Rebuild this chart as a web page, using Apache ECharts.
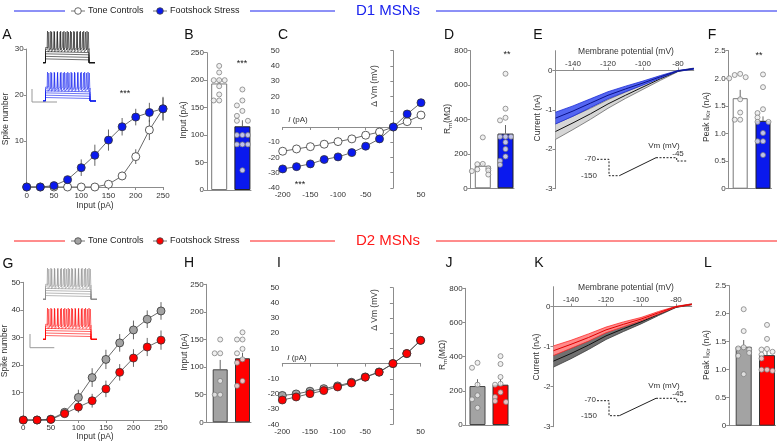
<!DOCTYPE html>
<html>
<head>
<meta charset="utf-8">
<script src="https://cdn.jsdelivr.net/npm/echarts@6/dist/echarts.min.js"></script>
<style>
html,body{margin:0;padding:0;background:#fff}
#main{width:779px;height:443px}
</style>
</head>
<body>
<div id="main"></div>
<script>
// ---- data ----
var inputPA = [0, 25, 50, 75, 100, 125, 150, 175, 200, 225, 250];
var d1SpikeTone = [0, 0, 0, 0, 0, 0, 0.6, 2.4, 6.6, 12.4, 17];
var d1SpikeToneSem = [0, 0, 0, 0, 0, 0, 0.4, 0.9, 1.6, 2.2, 2.4];
var d1SpikeFoot = [0, 0, 0.3, 1.6, 4.2, 6.9, 10.2, 13.1, 15.2, 16.2, 17];
var d1SpikeFootSem = [0, 0, 0.2, 0.7, 1.8, 2.3, 2.3, 1.9, 1.8, 2.1, 2.6];
var d2SpikeTone = [0, 0, 0.3, 2.8, 8.2, 15.4, 22, 28, 32.7, 36.6, 39.6];
var d2SpikeToneSem = [0, 0, 0.3, 1.2, 2.8, 3.4, 3.5, 3.2, 3.4, 3.2, 3.2];
var d2SpikeFoot = [0, 0, 0.2, 2.3, 4.7, 7, 11.3, 17.3, 22.5, 26.5, 29];
var d2SpikeFootSem = [0, 0, 0.2, 1, 2, 2.5, 3, 3, 3.2, 3.3, 3.5];

var d1RheoMean = [194, 116];
var d1RheoSem = [7, 11];
var d1RheoTone = [226, 214, 200, 200, 200, 189, 174, 163, 163];
var d1RheoFoot = [183, 163, 154, 144, 135, 126, 126, 100, 100, 100, 83, 83, 83, 36];
var d2RheoMean = [96, 116];
var d2RheoSem = [17, 10];
var d2RheoTone = [150, 125, 125, 75, 50, 50];
var d2RheoFoot = [163, 150, 150, 133, 125, 114, 108, 75, 66];

var ivCurrent = [-200, -175, -150, -125, -100, -75, -50, -25, 0, 25, 50];
var d1IvTone = [-15.9, -14.4, -12.9, -11.3, -9.6, -7.8, -5.4, -3.3, 0, 3.5, 7.8];
var d1IvToneSem = [1.2, 1, 1, 1, 1, 0.8, 0.6, 0.5, 0, 0.5, 0.8];
var d1IvFoot = [-27.5, -26, -24.2, -21.3, -19.6, -16.8, -12.6, -7.8, 0, 8.5, 15.9];
var d1IvFootSem = [2.5, 2.3, 2.2, 2, 2, 1.8, 1.5, 1.2, 0, 1, 1.5];
var d2IvTone = [-21, -20, -18.2, -16.5, -14.7, -12.3, -8.8, -5.5, 0, 6.6, 15.3];
var d2IvToneSem = [1.2, 1.1, 1, 1, 0.9, 0.8, 0.6, 0.5, 0, 0.6, 1];
var d2IvFoot = [-24, -22, -19.8, -17.8, -15.4, -12.8, -9, -5.7, 0, 6.6, 15.3];
var d2IvFootSem = [1.5, 1.4, 1.3, 1.2, 1.1, 1, 0.8, 0.6, 0, 0.7, 1.2];

var d1RmMean = [131, 318];
var d1RmSem = [16, 50];
var d1RmTone = [296, 142, 140, 116, 110, 104, 100, 80];
var d1RmFoot = [666, 463, 410, 395, 300, 300, 300, 268, 228, 185, 160, 137];
var d2RmMean = [228, 236];
var d2RmSem = [40, 33];
var d2RmTone = [364, 335, 236, 174, 150, 101];
var d2RmFoot = [403, 357, 281, 241, 236, 191, 164, 140, 135];

var rampMv = [-150, -140, -130, -120, -110, -100, -90, -80, -71];
var d1IkTone = [-1.55, -1.33, -1.1, -0.85, -0.63, -0.42, -0.21, -0.02, 0.05];
var d1IkToneSem = [0.2, 0.17, 0.14, 0.11, 0.08, 0.06, 0.04, 0.01, 0.01];
var d1IkFoot = [-1.21, -1.03, -0.83, -0.63, -0.47, -0.32, -0.16, -0.01, 0.04];
var d1IkFootSem = [0.15, 0.13, 0.11, 0.09, 0.07, 0.05, 0.03, 0.01, 0.01];
var d2IkTone = [-1.36, -1.17, -0.96, -0.73, -0.55, -0.38, -0.19, -0.01, 0.06];
var d2IkToneSem = [0.15, 0.13, 0.11, 0.09, 0.07, 0.05, 0.03, 0.01, 0.01];
var d2IkFoot = [-1.1, -0.94, -0.77, -0.58, -0.44, -0.31, -0.15, 0, 0.06];
var d2IkFootSem = [0.12, 0.1, 0.09, 0.07, 0.06, 0.04, 0.03, 0.01, 0.01];

var d1KirMean = [1.64, 1.23];
var d1KirSem = [0.15, 0.08];
var d1KirTone = [2.08, 2.06, 2.02, 2.0, 1.62, 1.38, 1.25, 1.25];
var d1KirFoot = [2.07, 1.84, 1.44, 1.37, 1.29, 1.21, 1.21, 1.01, 0.86, 0.86, 0.61];
var d2KirMean = [1.41, 1.26];
var d2KirSem = [0.12, 0.07];
var d2KirTone = [2.08, 1.69, 1.4, 1.38, 1.36, 1.3, 1.25, 0.92];
var d2KirFoot = [1.8, 1.55, 1.37, 1.36, 1.32, 1.27, 1.2, 1.0, 1.0, 0.98];

// ---- styles ----
var FONT = '"Liberation Sans", Arial, sans-serif';
var AXC = '#8c8c8c', TXT = '#333';
var BLUE = '#0a19ee', RED = '#ff0000', GRAY = '#a3a3a3', ERR = '#555';

var grids = [], xAxes = [], yAxes = [], series = [], graphics = [];

function addGrid(g, xa, ya) {
	var i = grids.length;
	g.containLabel = false;
	grids.push(g);
	xa.gridIndex = i; ya.gridIndex = i;
	xAxes.push(xa); yAxes.push(ya);
	return i;
}

function valAxis(o) {
	var a = {
		type: 'value', min: o.min, max: o.max, position: o.position, offset: o.offset || 0,
		splitLine: { show: false },
		axisLine: { show: true, onZero: !!o.onZero, lineStyle: { color: AXC, width: 1 } },
		axisTick: { show: o.ticks !== false, length: 3, lineStyle: { color: AXC, width: 1 } },
		axisLabel: {
			show: o.labels !== false, fontSize: 8, color: TXT, fontFamily: FONT, margin: o.margin || 3,
			formatter: o.fmt || function (v) { return (o.hideZero && v === 0) ? '' : String(v); }
		}
	};
	if (o.interval) a.interval = o.interval;
	if (o.custom) { a.axisTick.customValues = o.custom; a.axisLabel.customValues = o.custom; }
	return a;
}

function pairs(xs, ys) { return xs.map(function (x, i) { return [x, ys[i]]; }); }

function errSeries(gi, xs, means, sems, upOnly) {
	var data = xs.map(function (x, i) {
		return [x, upOnly ? means[i] : means[i] - sems[i], means[i] + sems[i]];
	});
	return {
		type: 'custom', xAxisIndex: gi, yAxisIndex: gi, data: data, z: 3, silent: true,
		encode: { x: 0, y: [1, 2] },
		renderItem: function (params, api) {
			var p0 = api.coord([api.value(0), api.value(1)]);
			var p1 = api.coord([api.value(0), api.value(2)]);
			return { type: 'line', shape: { x1: p0[0], y1: p0[1], x2: p1[0], y2: p1[1] },
				style: { stroke: ERR, lineWidth: 0.9 } };
		}
	};
}

function lineSeries(gi, xs, ys, fill) {
	return {
		type: 'line', xAxisIndex: gi, yAxisIndex: gi, data: pairs(xs, ys), z: 4,
		symbol: 'circle', symbolSize: 8,
		lineStyle: { color: '#444', width: 0.8 },
		itemStyle: { color: fill, borderColor: '#333', borderWidth: 0.8 }
	};
}

// simple beeswarm: spread dots of similar value sideways
function swarm(vals, center, stepX, tolY) {
	var placed = [];
	return vals.map(function (v) {
		var k = placed.filter(function (p) { return Math.abs(p - v) < tolY; }).length;
		placed.push(v);
		var off = k === 0 ? 0 : (k % 2 ? -1 : 1) * Math.ceil(k / 2) * stepX;
		return [center + off, v];
	});
}

function barPanel(L, means, sems, toneDots, footDots, toneFill, footFill, toneEdge, footEdge) {
	var u = L.c2 - L.c1;
	var xmin = 0.5 - (L.c1 - L.axisX) / u, xmax = 1.5 + (L.endX - L.c2) / u;
	var gi = addGrid({ left: L.axisX, top: L.top, width: L.endX - L.axisX, height: L.bottom - L.top },
		valAxis({ min: xmin, max: xmax, ticks: false, labels: false }),
		valAxis({ min: 0, max: L.ymax, interval: L.step, fmt: L.fmt }));
	series.push({
		type: 'bar', xAxisIndex: gi, yAxisIndex: gi, barWidth: L.barW, z: 2,
		data: [
			{ value: [0.5, means[0]], itemStyle: { color: toneFill, borderColor: toneEdge, borderWidth: 1 } },
			{ value: [1.5, means[1]], itemStyle: { color: footFill, borderColor: footEdge, borderWidth: 1 } }
		]
	});
	series.push(errSeries(gi, [0.5, 1.5], means, sems, true));
	var tol = 5 * L.ymax / (L.bottom - L.top), stepX = 5.5 / u;
	[swarm(toneDots, 0.5, stepX, tol), swarm(footDots, 1.5, stepX, tol)].forEach(function (d) {
		series.push({
			type: 'scatter', xAxisIndex: gi, yAxisIndex: gi, data: d, z: 5,
			symbol: 'circle', symbolSize: 5,
			itemStyle: { color: '#ececec', borderColor: '#777', borderWidth: 0.9 }
		});
	});
	return gi;
}

function bandSeries(gi, xs, mean, sem, fill, edge, mid) {
	return {
		type: 'custom', xAxisIndex: gi, yAxisIndex: gi, data: [[xs[0], mean[0]]], silent: true, clip: false, z: 3,
		renderItem: function (params, api) {
			var up = xs.map(function (x, i) { return api.coord([x, mean[i] + sem[i]]); });
			var lo = xs.map(function (x, i) { return api.coord([x, mean[i] - sem[i]]); });
			var md = xs.map(function (x, i) { return api.coord([x, mean[i]]); });
			return { type: 'group', children: [
				{ type: 'polygon', shape: { points: up.concat(lo.slice().reverse()) }, style: { fill: fill } },
				{ type: 'polyline', shape: { points: up }, style: { stroke: edge, lineWidth: 0.8, fill: null } },
				{ type: 'polyline', shape: { points: lo }, style: { stroke: edge, lineWidth: 0.8, fill: null } },
				{ type: 'polyline', shape: { points: md }, style: { stroke: mid, lineWidth: 1, fill: null } }
			] };
		}
	};
}

// ---- graphic helpers ----
function txt(x, y, s, size, color, align, extra) {
	var st = { text: s, fontSize: size, fontFamily: FONT, fill: color || TXT,
		align: align || 'center', verticalAlign: 'middle' };
	if (extra) for (var k in extra) st[k] = extra[k];
	return { type: 'text', x: x, y: y, style: st, silent: true, z: 10 };
}
function vtxt(x, y, s, rich) {
	var g = txt(x, y, s, 8.5, TXT, 'center', rich ? { rich: rich } : null);
	g.rotation = Math.PI / 2;
	return g;
}
function seg(pts, color, w, dash) {
	return { type: 'polyline', shape: { points: pts }, silent: true, z: 10,
		style: { stroke: color, lineWidth: w || 1, fill: null, lineDash: dash || null } };
}

function header(y, color, toneFill, footFill, title) {
	graphics.push(seg([[14, y], [65, y]], color, 1));
	graphics.push(seg([[71, y], [85, y]], '#555', 0.8));
	graphics.push({ type: 'circle', shape: { cx: 78, cy: y, r: 3.3 }, style: { fill: toneFill, stroke: '#444', lineWidth: 0.8 }, z: 11 });
	graphics.push(txt(88, y, 'Tone Controls', 9, '#222', 'left'));
	graphics.push(seg([[153, y], [167, y]], '#555', 0.8));
	graphics.push({ type: 'circle', shape: { cx: 160, cy: y, r: 3.3 }, style: { fill: footFill, stroke: '#444', lineWidth: 0.8 }, z: 11 });
	graphics.push(txt(170, y, 'Footshock Stress', 9, '#222', 'left'));
	graphics.push(seg([[250, y], [335, y]], color, 1));
	graphics.push(txt(388, y, title, 15, color, 'center'));
	graphics.push(seg([[436, y], [777, y]], color, 1));
}

// example sweeps drawn as a small picture
function traceInset(x0, x1, yTop, yBot, color) {
	var xs = x0 + 2.5, xe = x1 - 6, h = yBot - yTop;
	[0.12, 0.2, 0.28, 0.35].forEach(function (f) {
		var y = yBot - f * h;
		graphics.push(seg([[x0, yBot], [xs, yBot], [xs, y], [xe, y + 1], [xe, yBot], [x1, yBot]], color, 0.6));
	});
	[13, 15].forEach(function (n, k) {
		var yb = yBot - (0.42 + 0.06 * k) * h;
		var pts = [[x0, yBot], [xs, yBot], [xs, yb]];
		for (var i = 0; i < n; i++) {
			var x = xs + 2 + i * (xe - xs - 4) / (n - 1) + k * 1.3;
			pts.push([x - 0.5, yb], [x, yTop + k], [x + 0.6, yb + 2.5]);
		}
		pts.push([xe, yb + 1], [xe, yBot], [x1, yBot]);
		graphics.push(seg(pts, color, 0.5));
	});
}
function scaleBar(x, yTop, yBot, xEnd) {
	graphics.push(seg([[x, yTop], [x, yBot], [xEnd, yBot]], '#999', 1));
}
function protocol(yHold, yLow, yEnd, yHold2, labels) {
	graphics.push(seg([[597, yHold], [609, yHold], [609, yLow], [619.3, yLow]], '#222', 1, [2, 1.5]));
	graphics.push(seg([[619.3, yLow], [656, yEnd]], '#222', 1));
	graphics.push(seg([[656, yEnd], [676.7, yEnd], [676.7, yHold2], [686.7, yHold2]], '#222', 1, [2, 1.5]));
	graphics.push(txt(596, yHold - 1, '-70', 8, TXT, 'right'));
	graphics.push(txt(597, yLow, '-150', 8, TXT, 'right'));
	graphics.push(txt(664, labels[0], 'Vm (mV)', 8, TXT, 'center'));
	graphics.push(txt(678, labels[1], '-45', 8, TXT, 'center'));
}

// ================= D1 row =================
// A: input-output curve
var gA = addGrid({ left: 26.7, top: 49, width: 136.3, height: 138 },
	valAxis({ min: 0, max: 250, interval: 50, margin: 5 }),
	valAxis({ min: 0, max: 30, interval: 10, hideZero: true }));
series.push(errSeries(gA, inputPA, d1SpikeTone, d1SpikeToneSem));
series.push(errSeries(gA, inputPA, d1SpikeFoot, d1SpikeFootSem));
series.push(lineSeries(gA, inputPA, d1SpikeTone, '#fff'));
series.push(lineSeries(gA, inputPA, d1SpikeFoot, BLUE));

// B: rheobase
barPanel({ axisX: 207, c1: 219.2, c2: 242.4, endX: 251, top: 52.7, bottom: 190, ymax: 250, step: 50, barW: 16 },
	d1RheoMean, d1RheoSem, d1RheoTone, d1RheoFoot, '#fff', BLUE, '#777', '#222');

// C: I-V
var gC = addGrid({ left: 282.7, top: 50.7, width: 138.3, height: 137.3 },
	valAxis({ min: -200, max: 50, interval: 50, onZero: true, hideZero: true }),
	valAxis({ min: -40, max: 50, interval: 10, onZero: true, hideZero: true }));
series.push(errSeries(gC, ivCurrent, d1IvTone, d1IvToneSem));
series.push(errSeries(gC, ivCurrent, d1IvFoot, d1IvFootSem));
series.push(lineSeries(gC, ivCurrent, d1IvTone, '#fff'));
series.push(lineSeries(gC, ivCurrent, d1IvFoot, BLUE));

// D: input resistance
barPanel({ axisX: 470.7, c1: 482.8, c2: 505.5, endX: 514, top: 50.7, bottom: 188.3, ymax: 800, step: 200, barW: 16 },
	d1RmMean, d1RmSem, d1RmTone, d1RmFoot, '#fff', BLUE, '#777', '#222');

// E: Kir ramp currents (x axis sits on the 0 nA line, labels above)
var gE = addGrid({ left: 555.5, top: 50.7, width: 138.25, height: 138 },
	valAxis({ min: -150, max: -71, position: 'top', offset: -0.5 * 138 / 3.5, custom: [-140, -120, -100, -80] }),
	valAxis({ min: -3, max: 0.5, custom: [-3, -2, -1, 0] }));
series.push(bandSeries(gE, rampMv, d1IkTone, d1IkToneSem, '#d6d6d6', '#6a6a6a', '#111'));
series.push(bandSeries(gE, rampMv, d1IkFoot, d1IkFootSem, '#5466f2', '#1a2bd6', '#0a128a'));

// F: peak Kir
var fmt1 = function (v) { return v === 0 ? '0' : v.toFixed(1); };
barPanel({ axisX: 728.7, c1: 740.2, c2: 763, endX: 771.5, top: 50.7, bottom: 188.7, ymax: 2.5, step: 0.5, barW: 15, fmt: fmt1 },
	d1KirMean, d1KirSem, d1KirTone, d1KirFoot, '#fff', BLUE, '#777', '#222');

// ================= D2 row =================
var gG = addGrid({ left: 23.3, top: 282.3, width: 137.7, height: 137.7 },
	valAxis({ min: 0, max: 250, interval: 50, margin: 4 }),
	valAxis({ min: 0, max: 50, interval: 10, hideZero: true }));
series.push(errSeries(gG, inputPA, d2SpikeTone, d2SpikeToneSem));
series.push(errSeries(gG, inputPA, d2SpikeFoot, d2SpikeFootSem));
series.push(lineSeries(gG, inputPA, d2SpikeTone, GRAY));
series.push(lineSeries(gG, inputPA, d2SpikeFoot, RED));

barPanel({ axisX: 206.7, c1: 220.2, c2: 242.5, endX: 251, top: 284.3, bottom: 422.3, ymax: 250, step: 50, barW: 15 },
	d2RheoMean, d2RheoSem, d2RheoTone, d2RheoFoot, GRAY, RED, '#444', '#333');

var gI = addGrid({ left: 282.3, top: 287.7, width: 138.3, height: 136.6 },
	valAxis({ min: -200, max: 50, interval: 50, onZero: true, hideZero: true }),
	valAxis({ min: -40, max: 50, interval: 10, onZero: true, hideZero: true }));
series.push(errSeries(gI, ivCurrent, d2IvTone, d2IvToneSem));
series.push(errSeries(gI, ivCurrent, d2IvFoot, d2IvFootSem));
series.push(lineSeries(gI, ivCurrent, d2IvTone, GRAY));
series.push(lineSeries(gI, ivCurrent, d2IvFoot, RED));

barPanel({ axisX: 465.7, c1: 477.5, c2: 500.5, endX: 509, top: 288.3, bottom: 425, ymax: 800, step: 200, barW: 16 },
	d2RmMean, d2RmSem, d2RmTone, d2RmFoot, GRAY, RED, '#444', '#333');

var gK = addGrid({ left: 553.5, top: 286.7, width: 138.25, height: 140 },
	valAxis({ min: -150, max: -71, position: 'top', offset: -0.5 * 140 / 3.5, custom: [-140, -120, -100, -80] }),
	valAxis({ min: -3, max: 0.5, custom: [-3, -2, -1, 0] }));
series.push(bandSeries(gK, rampMv, d2IkTone, d2IkToneSem, '#707070', '#3a3a3a', '#111'));
series.push(bandSeries(gK, rampMv, d2IkFoot, d2IkFootSem, '#ff8a8a', '#ff2a2a', '#e00000'));

barPanel({ axisX: 729.3, c1: 743.7, c2: 767, endX: 775.5, top: 285.7, bottom: 425.7, ymax: 2.5, step: 0.5, barW: 16, fmt: fmt1 },
	d2KirMean, d2KirSem, d2KirTone, d2KirFoot, GRAY, RED, '#444', '#333');

// ---- annotations ----
header(11, '#1a22ee', '#fff', BLUE, 'D1 MSNs');
header(241, '#ff1a1a', GRAY, RED, 'D2 MSNs');

var letterFont = 14;
[['A', 7, 35], ['B', 189, 35], ['C', 283, 35], ['D', 449, 35], ['E', 538, 35], ['F', 712, 35],
 ['G', 8, 264], ['H', 189, 263], ['I', 279, 263], ['J', 449, 263], ['K', 539, 263], ['L', 708, 263]]
	.forEach(function (l) { graphics.push(txt(l[1], l[2], l[0], letterFont, '#111', 'center')); });

var sub = { s: { fontSize: 6, fontFamily: FONT, fill: TXT, padding: [4, 0, 0, 0] } };
var ital = { i: { fontSize: 8, fontFamily: FONT, fill: TXT, fontStyle: 'italic' } };
graphics.push(vtxt(6, 119, 'Spike number'));
graphics.push(txt(95, 205.5, 'Input (pA)', 8.5, TXT));
graphics.push(vtxt(184, 120, 'Input (pA)'));
graphics.push(vtxt(375, 86, '\u0394 Vm (mV)'));
graphics.push(txt(298, 120, '{i|I} (pA)', 8, TXT, 'center', { rich: ital }));
graphics.push(vtxt(448, 119, 'R{s|m}(M\u03a9)', sub));
graphics.push(txt(626, 52, 'Membrane potential (mV)', 8.5, TXT));
graphics.push(vtxt(538, 118, 'Current (nA)'));
graphics.push(vtxt(706.7, 117, 'Peak I{s|Kir} (nA)', sub));

graphics.push(vtxt(5, 351, 'Spike number'));
graphics.push(txt(95, 437, 'Input (pA)', 8.5, TXT));
graphics.push(vtxt(185, 352, 'Input (pA)'));
graphics.push(vtxt(375, 310, '\u0394 Vm (mV)'));
graphics.push(txt(297, 358, '{i|I} (pA)', 8, TXT, 'center', { rich: ital }));
graphics.push(vtxt(443, 355, 'R{s|m}(M\u03a9)', sub));
graphics.push(txt(626, 288, 'Membrane potential (mV)', 8.5, TXT));
graphics.push(vtxt(537, 357, 'Current (nA)'));
graphics.push(vtxt(706.7, 355, 'Peak I{s|Kir} (nA)', sub));

// significance marks
graphics.push(txt(125, 94, '***', 9, '#222'));
graphics.push(txt(242, 64, '***', 9, '#222'));
graphics.push(txt(300, 185, '***', 9, '#222'));
graphics.push(txt(507, 55, '**', 9, '#222'));
graphics.push(txt(759, 56, '**', 9, '#222'));

// example traces and scale bars
traceInset(43, 95, 31, 62.7, '#111');
traceInset(43, 96, 72, 101, BLUE);
scaleBar(32, 89, 102, 57);
traceInset(43, 97, 268, 299.3, '#8a8a8a');
traceInset(43, 97, 308, 339.3, RED);
scaleBar(30, 334, 347.7, 54.3);

// voltage ramp protocol sketches
protocol(159.3, 175.7, 157.7, 161, [145.3, 154]);
protocol(400.7, 415.7, 398.3, 401.7, [385.7, 394]);

var chart = echarts.init(document.getElementById('main'));
chart.setOption({
	animation: false,
	backgroundColor: '#fff',
	grid: grids,
	xAxis: xAxes,
	yAxis: yAxes,
	series: series,
	graphic: graphics
});
</script>
</body>
</html>
